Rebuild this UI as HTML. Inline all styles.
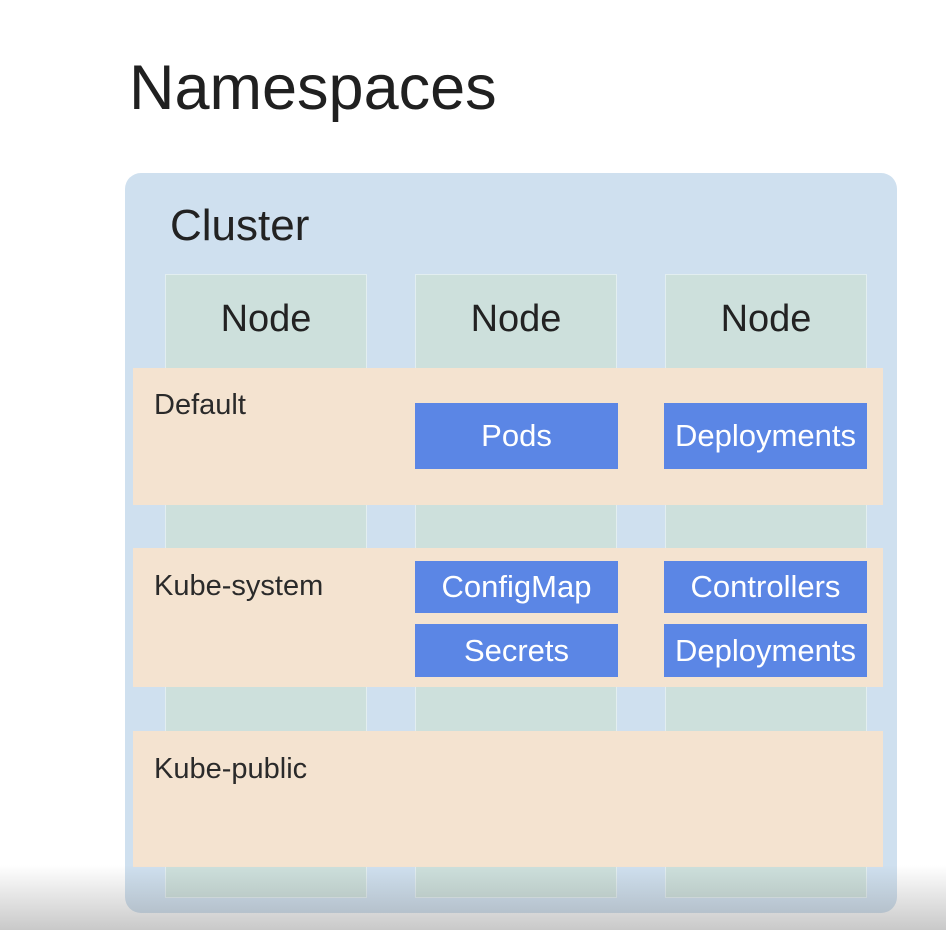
<!DOCTYPE html>
<html><head><style>
body{margin:0;width:946px;height:930px;overflow:hidden;background:#fff;font-family:"Liberation Sans",sans-serif;position:relative}
div{position:absolute;box-sizing:border-box;white-space:nowrap}
.node{background:#cde0dc;border:1px solid #e2eef0;top:274px;height:624px;width:202px}
.nl{font-size:38px;color:#222;text-align:center;width:202px;top:298px}
.band{background:#f4e3d0;left:133px;width:750px}
.bl{font-size:29px;color:#2a2a2a;left:154px}
.b{background:#5b86e5;color:#fff;font-size:31px;text-align:center;width:203px}
</style></head><body>
<div style="left:129px;top:52px;font-size:63px;color:#202020">Namespaces</div>
<div style="left:125px;top:173px;width:772px;height:740px;background:#cfe0ef;border-radius:16px"></div>
<div style="left:170px;top:201px;font-size:44px;color:#222">Cluster</div>
<div class="node" style="left:165px"></div>
<div class="node" style="left:415px"></div>
<div class="node" style="left:665px"></div>
<div class="nl" style="left:165px">Node</div>
<div class="nl" style="left:415px">Node</div>
<div class="nl" style="left:665px">Node</div>
<div class="band" style="top:368px;height:137px"></div>
<div class="band" style="top:548px;height:139px"></div>
<div class="band" style="top:731px;height:136px"></div>
<div class="bl" style="top:389px">Default</div>
<div class="bl" style="top:570px">Kube-system</div>
<div class="bl" style="top:753px">Kube-public</div>
<div class="b" style="left:415px;top:403px;height:66px;line-height:66px">Pods</div>
<div class="b" style="left:664px;top:403px;height:66px;line-height:66px">Deployments</div>
<div class="b" style="left:415px;top:561px;height:52px;line-height:52px">ConfigMap</div>
<div class="b" style="left:664px;top:561px;height:52px;line-height:52px">Controllers</div>
<div class="b" style="left:415px;top:624px;height:53px;line-height:53px">Secrets</div>
<div class="b" style="left:664px;top:624px;height:53px;line-height:53px">Deployments</div>
<div style="left:0;top:865px;width:946px;height:65px;background:linear-gradient(rgba(120,120,120,0),rgba(120,120,120,0.4))"></div>
</body></html>
